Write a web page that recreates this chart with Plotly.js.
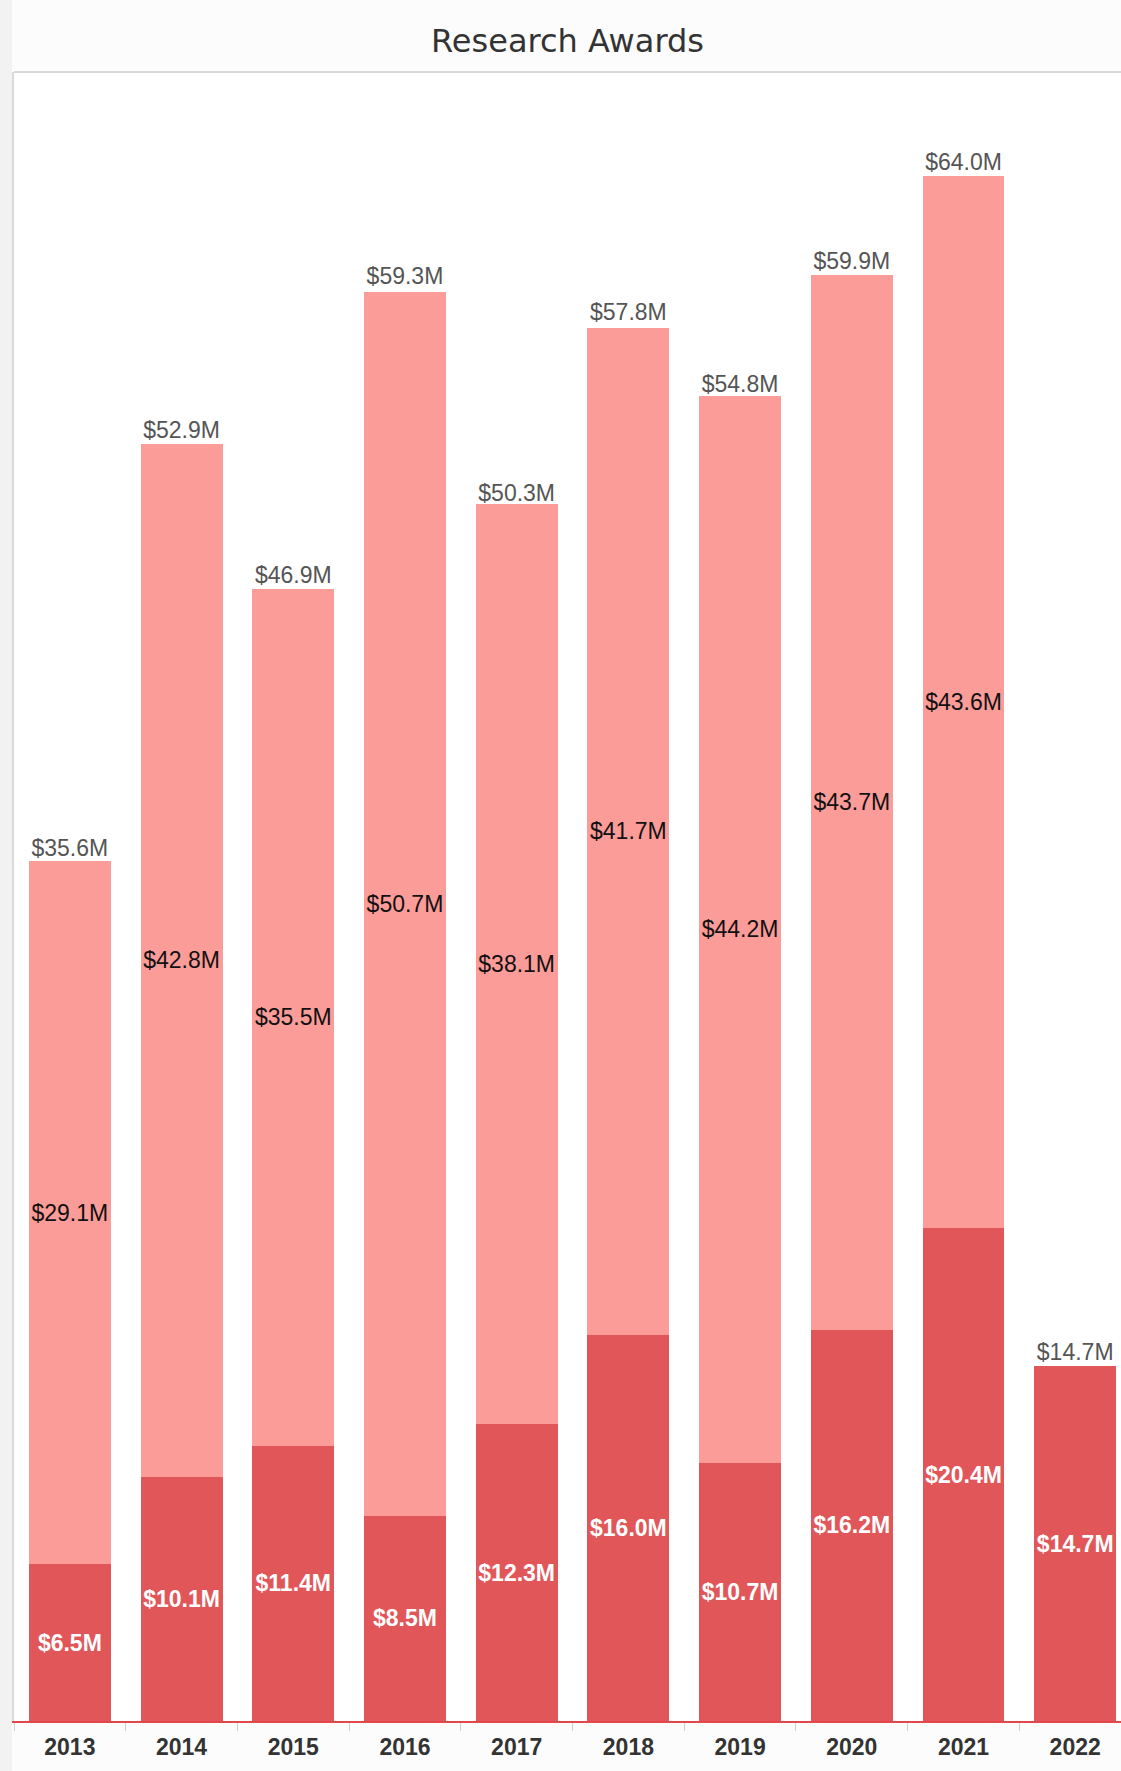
<!DOCTYPE html>
<html>
<head>
<meta charset="utf-8">
<script src="https://cdn.plot.ly/plotly-3.0.1.min.js"></script>
<style>
  html, body { margin: 0; padding: 0; background: #fcfcfc; }
  #chart { width: 1121px; height: 1771px; }
</style>
</head>
<body>
<div id="chart"></div>
<script>
// ---- data (values in $M) ----
const years = ["2013", "2014", "2015", "2016", "2017", "2018", "2019", "2020", "2021", "2022"];
const darkValues  = [6.5, 10.1, 11.4, 8.5, 12.3, 16.0, 10.7, 16.2, 20.4, 14.7];
const lightValues = [29.1, 42.8, 35.5, 50.7, 38.1, 41.7, 44.2, 43.7, 43.6, null];
const totalValues = [35.6, 52.9, 46.9, 59.3, 50.3, 57.8, 54.8, 59.9, 64.0, 14.7];

const fmt = v => (v === null ? "" : "$" + v.toFixed(1) + "M");

const darkColor = "#e15759";
const lightColor = "#fc9c99";

const traces = [
  {
    type: "bar",
    x: years,
    y: darkValues,
    text: darkValues.map(fmt),
    textposition: "inside",
    insidetextanchor: "middle",
    constraintext: "none",
    textangle: 0,
    textfont: { family: "Liberation Sans, Arial, sans-serif", size: 23, color: "#ffffff", weight: "bold" },
    marker: { color: darkColor, line: { width: 0 } },
    hoverinfo: "skip",
    showlegend: false
  },
  {
    type: "bar",
    x: years,
    y: lightValues,
    text: lightValues.map(fmt),
    textposition: "inside",
    insidetextanchor: "middle",
    constraintext: "none",
    textangle: 0,
    textfont: { family: "Liberation Sans, Arial, sans-serif", size: 23, color: "#111111" },
    marker: { color: lightColor, line: { width: 0 } },
    hoverinfo: "skip",
    showlegend: false
  },
  {
    type: "scatter",
    mode: "text",
    x: years,
    y: totalValues,
    text: totalValues.map(fmt),
    textposition: "top center",
    textfont: { family: "Liberation Sans, Arial, sans-serif", size: 23, color: "#555555" },
    cliponaxis: false,
    hoverinfo: "skip",
    showlegend: false
  }
];

const plotLeft = 14;
const plotWidth = 1121 - plotLeft;

const layout = {
  width: 1121,
  height: 1771,
  margin: { l: plotLeft, r: 0, t: 72, b: 50, pad: 0 },
  paper_bgcolor: "#fcfcfc",
  plot_bgcolor: "#ffffff",
  barmode: "stack",
  bargap: 0.266,
  title: {
    text: "Research Awards",
    font: { family: "'DejaVu Sans', sans-serif", size: 32, color: "#333333" },
    x: 0.5,
    xref: "paper",
    xanchor: "center",
    y: 1 - 41 / 1771,
    yref: "container",
    yanchor: "middle"
  },
  xaxis: {
    type: "category",
    range: [-0.5, 9.41],
    showgrid: false,
    zeroline: false,
    showline: true,
    linecolor: "#e2474b",
    linewidth: 2,
    ticks: "outside",
    tickson: "boundaries",
    ticklen: 8,
    tickwidth: 1,
    tickcolor: "#d0d0d0",
    ticklabelstandoff: 4,
    tickfont: { family: "Liberation Sans, Arial, sans-serif", size: 23, color: "#333333", weight: "bold" },
    fixedrange: true
  },
  yaxis: {
    range: [0, 68.3],
    showgrid: false,
    zeroline: false,
    showticklabels: false,
    ticks: "",
    showline: true,
    linecolor: "#d9d9d9",
    linewidth: 2,
    fixedrange: true
  },
  shapes: [
    {
      type: "line", xref: "paper", yref: "paper",
      x0: 0, x1: 1, y0: 1, y1: 1,
      line: { color: "#d9d9d9", width: 2 }
    },
    {
      type: "rect", xref: "paper", yref: "paper",
      x0: -plotLeft / plotWidth, x1: -2 / plotWidth, y0: -50 / 1649, y1: 1 + 72 / 1649,
      fillcolor: "#f2f2f2", line: { width: 0 }, layer: "below"
    }
  ]
};

Plotly.newPlot("chart", traces, layout, { displayModeBar: false, staticPlot: true });
</script>
</body>
</html>
